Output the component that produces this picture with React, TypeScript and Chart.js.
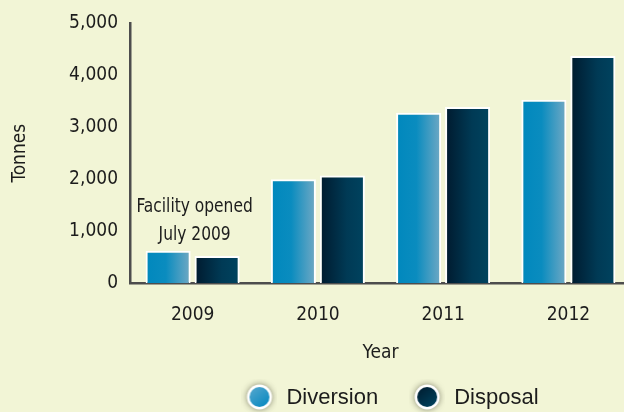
import React, { useEffect, useRef } from "react";
import { Chart, registerables } from "chart.js";

Chart.register(...registerables);

// ---- data ----
const YEARS = ["2009", "2010", "2011", "2012"];
const DIVERSION = [620, 2000, 3280, 3530];
const DISPOSAL = [520, 2070, 3390, 4370];
const Y_TICKS = [0, 1000, 2000, 3000, 4000, 5000];
const SERIES_LABELS = ["Diversion", "Disposal"];
const ANNOTATION_LINES = ["Facility opened", "July 2009"];
const ANNOTATION_VALUE = 920;
const Y_TITLE = "Tonnes";
const X_TITLE = "Year";

// ---- styles ----
const BG = "#f2f5d6";
const NARROW = "'Liberation Sans Narrow', 'DejaVu Sans Condensed', 'Arial Narrow', sans-serif";
const SANS = "'Liberation Sans', Arial, sans-serif";
const TEXT = "#1c1c1c";

const BAR_STOPS: [number, string][][] = [
  [
    [0, "#0088bd"],
    [0.45, "#0a8cbf"],
    [1, "#72a9c4"],
  ],
  [
    [0, "#001a2e"],
    [0.6, "#003a55"],
    [1, "#00435f"],
  ],
];

const LEGEND_STOPS: [number, string][][] = [
  [
    [0, "#62acd0"],
    [1, "#0086bf"],
  ],
  [
    [0, "#001628"],
    [1, "#004662"],
  ],
];

function makeLegendDot(stops: [number, string][]) {
  const c = document.createElement("canvas");
  c.width = 36;
  c.height = 36;
  const g = c.getContext("2d")!;
  const cx = 18, cy = 18, r = 12.5;
  g.save();
  g.shadowColor = "rgba(60,60,40,0.6)";
  g.shadowBlur = 6;
  g.beginPath();
  g.arc(cx, cy, r, 0, Math.PI * 2);
  g.fillStyle = "#ffffff";
  g.fill();
  g.restore();
  const grad = g.createLinearGradient(cx - r, cy - r, cx + r * 0.6, cy + r);
  stops.forEach(([o, col]) => grad.addColorStop(o, col));
  g.beginPath();
  g.arc(cx, cy, r - 2.5, 0, Math.PI * 2);
  g.fillStyle = grad;
  g.fill();
  return c;
}

const bgPlugin = {
  id: "bgFill",
  beforeDraw(chart: any) {
    const { ctx, width, height } = chart;
    ctx.save();
    ctx.fillStyle = BG;
    ctx.fillRect(0, 0, width, height);
    ctx.restore();
  },
};

const gradientPlugin = {
  id: "barGradient",
  beforeDatasetsDraw(chart: any) {
    const ctx = chart.ctx;
    chart.data.datasets.forEach((_: any, di: number) => {
      const meta = chart.getDatasetMeta(di);
      meta.data.forEach((bar: any) => {
        const { x, width } = bar.getProps(["x", "width"], true);
        const left = x - width / 2;
        const g = ctx.createLinearGradient(left, 0, left + width, 0);
        BAR_STOPS[di].forEach(([o, col]) => g.addColorStop(o, col));
        bar.options.backgroundColor = g;
      });
    });
  },
};

const annotationPlugin = {
  id: "annotation",
  afterDatasetsDraw(chart: any) {
    const { ctx, scales } = chart;
    const x = scales.x.getPixelForValue(0) + 2;
    const yBottom = scales.y.getPixelForValue(ANNOTATION_VALUE);
    const sx = 0.86;
    ctx.save();
    ctx.font = `20px ${NARROW}`;
    ctx.fillStyle = TEXT;
    ctx.textAlign = "center";
    ctx.textBaseline = "middle";
    ctx.translate(x, 0);
    ctx.scale(sx, 1);
    const n = ANNOTATION_LINES.length;
    ANNOTATION_LINES.forEach((line, i) => {
      ctx.fillText(line, 0, yBottom - (n - 1 - i) * 28);
    });
    ctx.restore();
  },
};

const legendPlugin = {
  id: "customLegend",
  afterDraw(chart: any) {
    const { ctx, chartArea } = chart;
    ctx.save();
    ctx.font = `22px ${SANS}`;
    ctx.fillStyle = TEXT;
    ctx.textBaseline = "middle";
    ctx.textAlign = "left";
    const dot = 26, gapDotText = 14, gapItems = 36;
    const widths = SERIES_LABELS.map((l) => ctx.measureText(l).width);
    const total = widths.reduce((a, w) => a + dot + gapDotText + w, 0) + gapItems * (SERIES_LABELS.length - 1);
    const center = (chartArea.left + chartArea.right) / 2 + 12;
    let x = center - total / 2;
    const y = chart.height - 15;
    SERIES_LABELS.forEach((label, i) => {
      const img = makeLegendDot(LEGEND_STOPS[i]);
      ctx.drawImage(img, x + dot / 2 - 18, y - 18);
      ctx.fillText(label, x + dot + gapDotText, y + 1);
      x += dot + gapDotText + widths[i] + gapItems;
    });
    ctx.restore();
  },
};

export default function App() {
  const ref = useRef<HTMLCanvasElement>(null);
  useEffect(() => {
    document.body.style.margin = "0";
    document.body.style.overflow = "hidden";
    document.body.style.background = BG;
    const chart = new Chart(ref.current!, {
      type: "bar",
      data: {
        labels: YEARS,
        datasets: [
          {
            label: SERIES_LABELS[0],
            data: DIVERSION,
            backgroundColor: () => "#0088bd",
            borderColor: "#ffffff",
            borderWidth: 2,
            categoryPercentage: 0.782,
            barPercentage: 0.92,
          },
          {
            label: SERIES_LABELS[1],
            data: DISPOSAL,
            backgroundColor: () => "#001a2e",
            borderColor: "#ffffff",
            borderWidth: 2,
            categoryPercentage: 0.782,
            barPercentage: 0.92,
          },
        ],
      },
      options: {
        animation: false,
        responsive: false,
        maintainAspectRatio: false,
        devicePixelRatio: 1,
        layout: { padding: { top: 14, right: 9, bottom: 42, left: 0 } },
        plugins: {
          legend: { display: false },
          tooltip: { enabled: false },
        },
        scales: {
          x: {
            afterFit(scale: any) {
              scale.height = 87;
            },
            grid: { display: false, drawTicks: false },
            border: { display: true, color: "#4d4d4d", width: 2.5 },
            ticks: {
              padding: 21,
              color: TEXT,
              font: { family: NARROW, size: 19 },
            },
            title: {
              display: true,
              text: X_TITLE,
              color: TEXT,
              font: { family: NARROW, size: 19 },
              padding: { top: 14, bottom: 6 },
            },
          },
          y: {
            min: 0,
            max: 5000,
            afterFit(scale: any) {
              scale.width = 130;
            },
            afterBuildTicks(scale: any) {
              scale.ticks = Y_TICKS.map((v) => ({ value: v }));
            },
            grid: { display: false, drawTicks: false },
            border: { display: true, color: "#4d4d4d", width: 2.5 },
            ticks: {
              padding: 12,
              color: TEXT,
              font: { family: NARROW, size: 19 },
              callback: (v: any) => Number(v).toLocaleString("en-US"),
            },
            title: {
              display: true,
              text: Y_TITLE,
              color: TEXT,
              font: { family: NARROW, size: 19 },
              padding: { top: 9, bottom: 0 },
            },
          },
        },
      },
      plugins: [bgPlugin, gradientPlugin, annotationPlugin, legendPlugin],
    });
    return () => chart.destroy();
  }, []);
  return (
    <div style={{ width: 640, height: 412, background: BG }}>
      <canvas ref={ref} width={640} height={412} style={{ display: "block" }} />
    </div>
  );
}
